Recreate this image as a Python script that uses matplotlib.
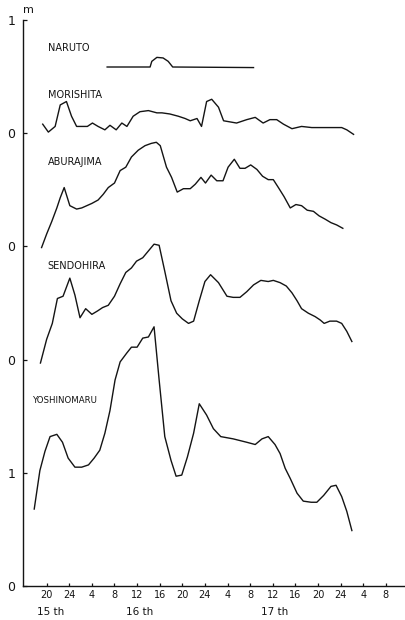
import matplotlib
matplotlib.use("Agg")
import matplotlib.pyplot as plt

# Time axis: hours counted from 15th 00:00
# Sea-level anomaly (m) at each station

naruto_t = [30.7, 38.3, 38.6, 39.5, 40.6, 41.5, 42.3, 56.6]
naruto_v = [0.00, 0.00, 0.05, 0.085, 0.08, 0.05, 0.00, -0.005]

morishita_t = [19.3, 20.3, 21.5, 22.4, 23.5, 24.4, 25.3, 27.2, 28.1, 29.1, 30.3, 31.2,
               32.3, 33.3, 34.2, 35.3, 36.5, 38.0, 39.5, 40.4, 41.8, 43.3, 44.5, 45.4,
               46.6, 47.4, 48.3, 49.2, 50.4, 51.3, 53.6, 55.4, 56.9, 58.3, 59.5, 60.7,
               61.9, 63.4, 65.1, 66.9, 68.4, 70.4, 72.2, 73.1, 74.3]
morishita_v = [0.08, 0.01, 0.06, 0.25, 0.28, 0.15, 0.06, 0.06, 0.09, 0.06, 0.03, 0.07,
               0.03, 0.09, 0.06, 0.15, 0.19, 0.20, 0.18, 0.18, 0.17, 0.15, 0.13, 0.11,
               0.13, 0.06, 0.28, 0.30, 0.23, 0.11, 0.09, 0.12, 0.14, 0.09, 0.12, 0.12,
               0.08, 0.04, 0.06, 0.05, 0.05, 0.05, 0.05, 0.03, -0.01]

aburajima_t = [19.1, 20.0, 20.9, 21.8, 22.4, 23.1, 24.1, 25.3, 26.2, 27.1, 28.0, 29.1,
               30.0, 30.9, 32.0, 33.0, 34.0, 35.0, 36.2, 37.4, 38.5, 39.4, 40.1, 41.2,
               42.1, 43.1, 44.2, 45.4, 46.3, 47.3, 48.1, 49.1, 50.1, 51.2, 52.1, 53.2,
               54.2, 55.1, 56.1, 57.2, 58.2, 59.2, 60.1, 61.0, 62.0, 63.1, 64.1, 65.1,
               66.1, 67.2, 68.2, 69.3, 70.3, 71.3, 72.4]
aburajima_v = [-0.01, 0.11, 0.22, 0.34, 0.43, 0.52, 0.36, 0.33, 0.34, 0.36, 0.38, 0.41,
               0.46, 0.52, 0.56, 0.67, 0.70, 0.79, 0.85, 0.89, 0.91, 0.92, 0.89, 0.70,
               0.61, 0.48, 0.51, 0.51, 0.55, 0.61, 0.56, 0.63, 0.58, 0.58, 0.70, 0.77,
               0.69, 0.69, 0.72, 0.68, 0.62, 0.59, 0.59, 0.52, 0.44, 0.34, 0.37, 0.36,
               0.32, 0.31, 0.27, 0.24, 0.21, 0.19, 0.16]

sendohira_t = [18.9, 20.0, 21.0, 21.9, 22.9, 24.1, 25.0, 25.9, 26.9, 28.0, 29.0, 29.9,
               30.9, 32.0, 33.0, 34.0, 35.0, 35.9, 37.0, 38.0, 39.0, 39.9, 40.9, 42.0,
               43.0, 44.0, 45.1, 46.0, 47.0, 48.0, 49.0, 50.4, 51.9, 53.0, 54.2, 55.4,
               56.6, 57.9, 59.2, 60.1, 61.3, 62.4, 63.4, 64.3, 65.1, 66.3, 67.5, 68.4,
               69.1, 70.1, 71.3, 72.2, 73.1, 74.0]
sendohira_v = [-0.03, 0.18, 0.32, 0.54, 0.56, 0.72, 0.57, 0.37, 0.45, 0.40, 0.43, 0.46,
               0.48, 0.56, 0.67, 0.77, 0.81, 0.87, 0.90, 0.96, 1.02, 1.01, 0.78, 0.52,
               0.41, 0.36, 0.32, 0.34, 0.52, 0.69, 0.75, 0.68, 0.56, 0.55, 0.55, 0.60,
               0.66, 0.70, 0.69, 0.70, 0.68, 0.65, 0.59, 0.52, 0.45, 0.41, 0.38, 0.35,
               0.32, 0.34, 0.34, 0.32, 0.25, 0.16]

yoshinomaru_t = [17.8, 18.8, 19.7, 20.6, 21.8, 22.8, 23.8, 25.0, 26.2, 27.4, 28.4, 29.4,
                 30.3, 31.2, 32.1, 33.0, 34.2, 35.0, 36.0, 37.0, 38.0, 39.0, 39.9, 40.9,
                 42.0, 42.9, 43.9, 44.9, 46.0, 47.0, 48.3, 49.5, 50.8, 53.0, 55.4, 56.9,
                 58.1, 59.2, 60.4, 61.3, 62.2, 63.1, 64.3, 65.4, 66.8, 67.8, 69.0, 70.3,
                 71.2, 72.2, 73.1, 74.0]
yoshinomaru_v = [0.68, 1.02, 1.19, 1.32, 1.34, 1.27, 1.13, 1.05, 1.05, 1.07, 1.13, 1.20,
                 1.35, 1.55, 1.82, 1.98, 2.06, 2.11, 2.11, 2.19, 2.20, 2.29, 1.82, 1.32,
                 1.11, 0.97, 0.98, 1.14, 1.35, 1.61, 1.51, 1.39, 1.32, 1.30, 1.27, 1.25,
                 1.30, 1.32, 1.25, 1.17, 1.04, 0.95, 0.82, 0.75, 0.74, 0.74, 0.80, 0.88,
                 0.89, 0.79, 0.66, 0.49]

x_tick_hours = list(range(20, 84, 4))
x_tick_labels = ["20", "24", "4", "8", "12", "16", "20", "24",
                 "4", "8", "12", "16", "20", "24", "4", "8"]
y_tick_labels = ["0", "1", "0", "0", "0", "1"]
day_names = ["15 th", "16 th", "17 th"]
day_hours = [20.7, 36.5, 60.4]

# each record is drawn above its own zero line
stations = [
    ("NARUTO", naruto_t, naruto_v, 4.585, (20.2, 4.755)),
    ("MORISHITA", morishita_t, morishita_v, 4.0, (20.2, 4.337)),
    ("ABURAJIMA", aburajima_t, aburajima_v, 3.0, (20.2, 3.746)),
    ("SENDOHIRA", sendohira_t, sendohira_v, 2.0, (20.2, 2.83)),
    ("YOSHINOMARU", yoshinomaru_t, yoshinomaru_v, 0.0, (17.6, 1.637)),
]

fig = plt.figure(figsize=(4.05, 6.2), dpi=100)
ax = fig.add_axes([0.058, 0.0548, 0.942, 0.9129])

ink = "#141414"
for name, t, v, base, (lx, ly) in stations:
    ax.plot(t, [base + val for val in v], color=ink, lw=1.0)
    fs = 6.2 if name == "YOSHINOMARU" else 7
    ax.text(lx, ly, name, fontsize=fs, color=ink, ha="left", va="center")

ax.set_xlim(15.9, 83.4)
ax.set_ylim(0, 5)

ax.set_xticks(x_tick_hours)
ax.set_xticklabels(x_tick_labels)
ax.set_yticks(range(6))
ax.set_yticklabels(y_tick_labels)

ax.tick_params(axis="x", direction="in", length=2.5, width=0.9, pad=3,
               labelsize=7, colors=ink)
ax.tick_params(axis="y", direction="in", length=3, width=0.9, pad=6,
               labelsize=9, colors=ink)

for side in ("top", "right"):
    ax.spines[side].set_visible(False)
for side in ("left", "bottom"):
    ax.spines[side].set_color(ink)
    ax.spines[side].set_linewidth(1.0)

for name, h in zip(day_names, day_hours):
    ax.text(h, -0.046, name, transform=ax.get_xaxis_transform(),
            ha="center", va="center", fontsize=7.5, color=ink)

ax.text(0.012, 1.017, "m", transform=ax.transAxes, ha="center", va="center",
        fontsize=8, color=ink)

fig.savefig("out.png", dpi=100, facecolor="white")
